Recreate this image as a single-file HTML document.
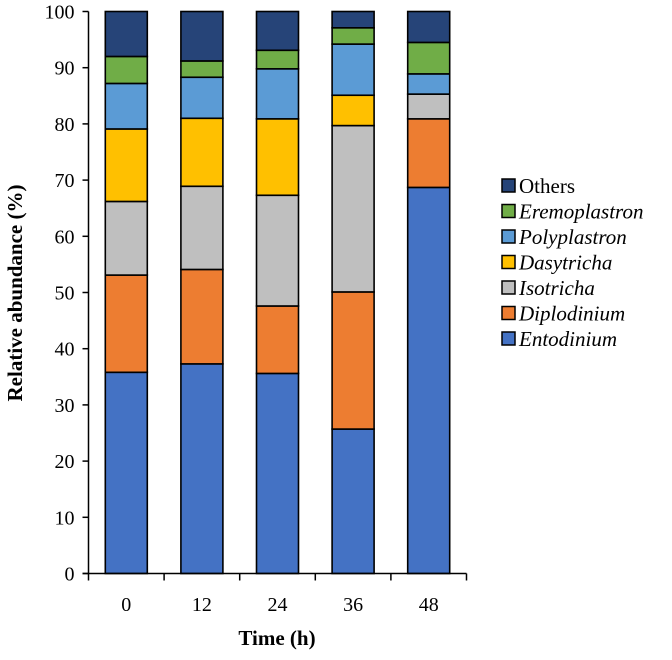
<!DOCTYPE html>
<html><head><meta charset="utf-8"><style>
html,body{margin:0;padding:0;background:#fff;}
svg, svg text{font-family:"Liberation Serif","Times New Roman",serif;}
</style></head><body>
<svg id="chart" width="672" height="655" viewBox="0 0 672 655">
<g id="plot"></g>
<g id="axes"></g>
<g id="legend"></g>
<text x="277" y="645" text-anchor="middle" font-family="Liberation Serif, serif" font-size="21" font-weight="bold">Time (h)</text>
<text transform="translate(22,293) rotate(-90)" text-anchor="middle" font-family="Liberation Serif, serif" font-size="21" font-weight="bold">Relative abundance (%)</text>
</svg>
<script>
const categories = ["0","12","24","36","48"];
const entodinium = [35.8,37.3,35.6,25.7,68.7];
const diplodinium = [17.3,16.8,12.0,24.4,12.2];
const isotricha = [13.1,14.8,19.7,29.6,4.4];
const dasytricha = [12.9,12.1,13.6,5.4,0];
const polyplastron = [8.1,7.3,8.9,9.1,3.6];
const eremoplastron = [4.8,2.9,3.3,2.9,5.6];
const others = [8.0,8.8,6.9,2.9,5.5];
const yTicks = [0,10,20,30,40,50,60,70,80,90,100];
const seriesNames = ["Entodinium","Diplodinium","Isotricha","Dasytricha","Polyplastron","Eremoplastron","Others"];
const seriesValues = [entodinium,diplodinium,isotricha,dasytricha,polyplastron,eremoplastron,others];
const colors = ["#4472c4","#ed7d31","#bfbfbf","#ffc000","#5b9bd5","#70ad47","#264478"];

const NS="http://www.w3.org/2000/svg";
const FONT="Liberation Serif, serif";
const x0=88.5, x1=466.5, y0=573.5, y1=11.5;
const band=(x1-x0)/categories.length, barW=42;
const yScale=v=>y0-(v/100)*(y0-y1);
const xCenter=i=>x0+band*(i+0.5);
function mk(tag,attrs,parent){const e=document.createElementNS(NS,tag);for(const k in attrs)e.setAttribute(k,attrs[k]);parent.appendChild(e);return e;}
const plot=document.getElementById('plot'), axes=document.getElementById('axes'), legend=document.getElementById('legend');

categories.forEach((c,i)=>{
  let cum=0;
  seriesValues.forEach((arr,s)=>{
    const v=arr[i];
    if(v>0){
      const r=mk('rect',{x:xCenter(i)-barW/2,y:yScale(cum+v),width:barW,height:yScale(cum)-yScale(cum+v),fill:colors[s],stroke:'#000','stroke-width':1.6},plot);
      
      
    }
    cum+=v;
  });
  const t=mk('text',{x:xCenter(i),y:611,'text-anchor':'middle','font-size':20,'font-family':FONT},axes);
  t.textContent=c;
  
  
});
const ya=mk('line',{x1:x0,y1:y1,x2:x0,y2:y0,stroke:'#000','stroke-width':1.5},axes);


const xa=mk('line',{x1:x0-6,y1:y0,x2:x1,y2:y0,stroke:'#000','stroke-width':1.5},axes);


for(let i=0;i<=categories.length;i++){
  const tk=mk('line',{x1:x0+band*i,y1:y0,x2:x0+band*i,y2:y0+7,stroke:'#000','stroke-width':1.5},axes);
  
  
}
yTicks.forEach(v=>{
  const tk=mk('line',{x1:x0-6,y1:yScale(v),x2:x0,y2:yScale(v),stroke:'#000','stroke-width':1.5},axes);
  
  
  const t=mk('text',{x:x0-14,y:yScale(v)+7,'text-anchor':'end','font-size':20,'font-family':FONT},axes);
  t.textContent=v;
  
  
});
for(let s=seriesNames.length-1;s>=0;s--){
  const row=seriesNames.length-1-s;
  const cy=186+row*25.5;
  const g=mk('g',{},legend);
  
  
  mk('rect',{x:502,y:cy-7,width:13,height:13,fill:colors[s],stroke:'#000','stroke-width':1.5},g);
  const t=mk('text',{x:519,y:cy+7,'font-size':21,'font-family':FONT,'font-style':s===6?'normal':'italic'},g);
  t.textContent=seriesNames[s];
}
</script>
</body></html>
